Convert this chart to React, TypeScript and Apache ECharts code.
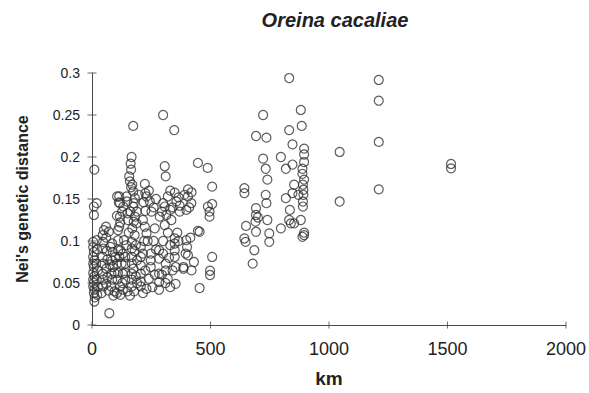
import React, { useEffect, useRef } from "react";
import * as echarts from "echarts";

const titleText = "Oreina cacaliae";
const xName = "km";
const yName = "Nei's genetic distance";

const xTickValues = [0, 500, 1000, 1500, 2000];
const yTickValues = [0, 0.05, 0.1, 0.15, 0.2, 0.25, 0.3];

// [km, Nei's genetic distance]
const band0to30: [number, number][] = [
  [10, 0.185], [20, 0.145], [8, 0.141], [8, 0.131], [5, 0.099], [5, 0.093], [8, 0.087], [5, 0.081],
  [10, 0.077], [5, 0.073], [8, 0.069], [5, 0.062], [10, 0.058], [5, 0.054], [8, 0.05], [5, 0.046],
  [10, 0.042], [8, 0.038], [12, 0.033], [10, 0.028], [20, 0.101], [22, 0.09], [18, 0.073], [25, 0.065],
  [20, 0.054], [25, 0.045], [22, 0.036],
];
const band30to100: [number, number][] = [
  [73, 0.014], [50, 0.113], [45, 0.107], [59, 0.117], [71, 0.111], [47, 0.099], [47, 0.091], [45, 0.081],
  [47, 0.073], [45, 0.061], [47, 0.054], [47, 0.046], [40, 0.038], [60, 0.104], [62, 0.088], [65, 0.078],
  [60, 0.067], [65, 0.057], [60, 0.049], [70, 0.041], [85, 0.097], [88, 0.087], [85, 0.077], [88, 0.069],
  [82, 0.061], [85, 0.054], [80, 0.046], [95, 0.04], [90, 0.035], [98, 0.081], [95, 0.062], [75, 0.072],
  [78, 0.093],
];
const band100to160: [number, number][] = [
  [115, 0.153], [106, 0.153], [118, 0.145], [132, 0.141], [113, 0.146], [146, 0.153], [127, 0.135],
  [118, 0.129], [115, 0.117], [119, 0.122], [110, 0.113], [130, 0.085], [125, 0.073], [130, 0.061],
  [128, 0.05], [130, 0.042], [135, 0.101], [110, 0.101], [110, 0.089], [120, 0.089], [115, 0.081],
  [140, 0.081], [105, 0.073], [140, 0.073], [110, 0.062], [140, 0.062], [108, 0.054], [140, 0.054],
  [118, 0.046], [105, 0.038], [120, 0.036], [150, 0.133], [152, 0.125], [148, 0.147], [145, 0.095],
  [150, 0.04], [155, 0.11], [105, 0.13],
];
const band160to200: [number, number][] = [
  [174, 0.237], [167, 0.2], [163, 0.192], [165, 0.185], [157, 0.177], [160, 0.171], [174, 0.159],
  [181, 0.151], [176, 0.145], [174, 0.141], [165, 0.164], [170, 0.167], [162, 0.135], [190, 0.135],
  [188, 0.121], [181, 0.129], [176, 0.123], [170, 0.115], [168, 0.099], [168, 0.091], [168, 0.081],
  [168, 0.073], [168, 0.061], [168, 0.054], [168, 0.046], [197, 0.155], [180, 0.107], [185, 0.095],
  [180, 0.088], [190, 0.077], [175, 0.067], [185, 0.058], [190, 0.05], [178, 0.04], [160, 0.035],
];
const band200to290: [number, number][] = [
  [223, 0.168], [225, 0.157], [230, 0.153], [244, 0.147], [218, 0.146], [225, 0.136], [251, 0.135],
  [223, 0.117], [230, 0.109], [206, 0.093], [206, 0.081], [206, 0.071], [206, 0.061], [206, 0.052],
  [206, 0.046], [248, 0.085], [248, 0.077], [248, 0.069], [283, 0.089], [283, 0.079], [283, 0.061],
  [283, 0.051], [283, 0.042], [286, 0.129], [215, 0.125], [240, 0.16], [260, 0.14], [265, 0.115],
  [235, 0.1], [260, 0.1], [220, 0.1], [270, 0.09], [225, 0.065], [240, 0.055], [255, 0.045], [265, 0.06],
  [215, 0.085], [270, 0.15], [215, 0.038], [230, 0.043],
];
const band290to380: [number, number][] = [
  [300, 0.25], [347, 0.232], [307, 0.189], [311, 0.177], [349, 0.1575], [300, 0.145], [307, 0.141],
  [356, 0.147], [370, 0.142], [314, 0.131], [335, 0.125], [307, 0.119], [349, 0.103], [349, 0.097],
  [349, 0.089], [349, 0.081], [311, 0.073], [311, 0.065], [353, 0.069], [353, 0.049], [320, 0.153],
  [330, 0.137], [340, 0.14], [365, 0.152], [330, 0.16], [295, 0.135], [320, 0.11], [300, 0.1], [330, 0.095],
  [300, 0.085], [325, 0.08], [340, 0.065], [295, 0.06], [320, 0.055], [330, 0.045], [360, 0.11],
  [370, 0.135], [365, 0.1], [310, 0.05],
];
const band380to520: [number, number][] = [
  [447, 0.193], [488, 0.187], [405, 0.1615], [405, 0.153], [419, 0.145], [398, 0.137], [489, 0.141],
  [507, 0.1647], [507, 0.144], [496, 0.135], [496, 0.129], [447, 0.112], [454, 0.111], [398, 0.101],
  [401, 0.093], [405, 0.083], [507, 0.081], [498, 0.0646], [498, 0.0595], [454, 0.044], [386, 0.067],
  [386, 0.069], [420, 0.158], [390, 0.155], [410, 0.14], [415, 0.104], [430, 0.075], [420, 0.065],
  [395, 0.085],
];
const band640to900: [number, number][] = [
  [643, 0.163], [643, 0.157], [650, 0.118], [643, 0.103], [648, 0.099],
  [722, 0.25], [692, 0.225], [736, 0.223], [722, 0.198], [733, 0.186], [740, 0.173], [733, 0.155],
  [736, 0.145], [692, 0.139], [692, 0.131], [690, 0.123], [692, 0.111], [740, 0.125], [748, 0.109],
  [748, 0.099], [685, 0.089], [678, 0.073], [700, 0.128],
  [832, 0.294], [881, 0.256], [885, 0.237], [832, 0.232], [846, 0.215], [895, 0.21], [895, 0.203],
  [895, 0.194], [797, 0.2], [818, 0.186], [846, 0.191], [888, 0.186], [888, 0.18], [895, 0.173],
  [890, 0.167], [853, 0.167], [846, 0.157], [818, 0.151], [892, 0.161], [892, 0.155], [871, 0.155],
  [890, 0.147], [835, 0.137], [890, 0.141], [832, 0.125], [853, 0.121], [881, 0.125], [797, 0.115],
  [895, 0.11], [895, 0.107], [888, 0.105], [839, 0.121],
];
const bandFar: [number, number][] = [
  [1045, 0.206], [1045, 0.147], [1210, 0.2917], [1210, 0.267], [1210, 0.218], [1210, 0.1615],
  [1515, 0.1917], [1515, 0.1865],
];

const allPoints = [
  ...band0to30, ...band30to100, ...band100to160, ...band160to200,
  ...band200to290, ...band290to380, ...band380to520, ...band640to900, ...bandFar,
];

const FONT = "Liberation Sans, Arial, Helvetica, sans-serif";
const AXIS_COLOR = "#4a4a4a";

export default function App() {
  const ref = useRef<HTMLDivElement>(null);
  useEffect(() => {
    if (!ref.current) return;
    const chart = echarts.init(ref.current, null, { renderer: "svg" });
    chart.setOption({
      animation: false,
      backgroundColor: "#fff",
      title: {
        text: titleText,
        left: 330,
        top: 5,
        textAlign: "center",
        textStyle: {
          fontFamily: FONT,
          fontStyle: "italic",
          fontWeight: "bold",
          fontSize: 20,
          color: "#222",
        },
      },
      grid: { left: 92, right: 21, top: 73, bottom: 68 },
      xAxis: {
        type: "value",
        min: 0,
        max: 2000,
        interval: 500,
        name: xName,
        nameLocation: "middle",
        nameGap: 44,
        nameTextStyle: { fontFamily: FONT, fontWeight: "bold", fontSize: 19, color: "#222" },
        axisLine: { show: true, lineStyle: { color: AXIS_COLOR, width: 1 } },
        axisTick: { show: false },
        axisLabel: {
          margin: 15,
          fontFamily: FONT,
          fontSize: 18,
          color: "#222",
          formatter: (v: number) => String(v),
        },
        splitLine: { show: false },
      },
      yAxis: {
        type: "value",
        min: 0,
        max: 0.3,
        interval: 0.05,
        name: yName,
        nameLocation: "middle",
        nameGap: 62,
        nameTextStyle: { fontFamily: FONT, fontWeight: "bold", fontSize: 16, color: "#222" },
        axisLine: { show: true, lineStyle: { color: AXIS_COLOR, width: 1 } },
        axisTick: { show: false },
        axisLabel: {
          margin: 12,
          fontFamily: FONT,
          fontSize: 14,
          color: "#222",
          formatter: (v: number) => String(Math.round(v * 100) / 100),
        },
        splitLine: { show: false },
      },
      series: [
        {
          type: "scatter",
          data: allPoints,
          symbol: "circle",
          symbolSize: 9,
          itemStyle: { color: "rgba(255,255,255,0)", borderColor: "#333", borderWidth: 1.2 },
          emphasis: { disabled: true },
          z: 3,
        },
        {
          type: "scatter",
          data: yTickValues.map((v) => [0, v]),
          symbol: "rect",
          symbolSize: [9, 1],
          clip: false,
          itemStyle: { color: AXIS_COLOR },
          emphasis: { disabled: true },
          silent: true,
          z: 4,
        },
        {
          type: "scatter",
          data: xTickValues.map((v) => [v, 0]),
          symbol: "rect",
          symbolSize: [1, 7],
          clip: false,
          itemStyle: { color: AXIS_COLOR },
          emphasis: { disabled: true },
          silent: true,
          z: 4,
        },
      ],
    });
    return () => chart.dispose();
  }, []);
  return (
    <div
      ref={ref}
      style={{ position: "fixed", left: 0, top: 0, width: 589, height: 393, background: "#fff" }}
    />
  );
}
